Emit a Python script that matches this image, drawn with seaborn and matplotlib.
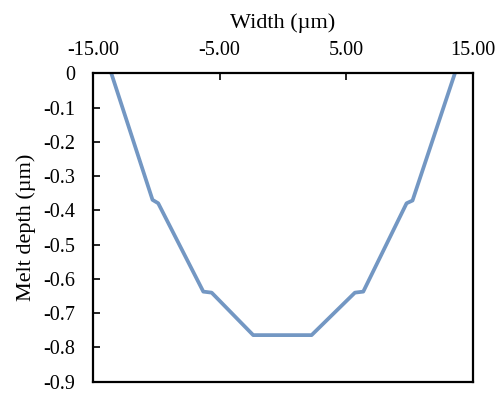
import matplotlib
matplotlib.use("Agg")
import matplotlib.pyplot as plt
import seaborn as sns
import pandas as pd
from matplotlib.ticker import FixedLocator, FuncFormatter

sns.set_theme(style="white")
plt.rcParams['font.family'] = ['Liberation Serif', 'DejaVu Serif']

width_um = [-13.55, -10.30, -9.85, -6.29, -5.63, -2.35, 2.26, 5.68, 6.34, 9.76, 10.23, 13.57]
melt_depth = [0.0, -0.369, -0.379, -0.637, -0.640, -0.764, -0.764, -0.640, -0.637, -0.379, -0.371, 0.0]
x_ticks = [-15, -5, 5, 15]
y_ticks = [0, -0.1, -0.2, -0.3, -0.4, -0.5, -0.6, -0.7, -0.8, -0.9]

df = pd.DataFrame({"x": width_um, "y": melt_depth})

fig = plt.figure(figsize=(5.01, 3.95), dpi=100)
ax = fig.add_axes([0.1856, 0.0337, 0.944 - 0.1856, 0.814 - 0.0337])
sns.lineplot(data=df, x="x", y="y", sort=False, color="#7397C3", linewidth=2.7, ax=ax)
ax.lines[0].set_solid_joinstyle("round")

ax.set_xlim(-15, 15)
ax.set_ylim(-0.9, 0)
ax.xaxis.set_major_locator(FixedLocator(x_ticks))
ax.xaxis.set_major_formatter(FuncFormatter(lambda v, p: f"{v:.2f}"))
ax.yaxis.set_major_locator(FixedLocator(y_ticks))
ax.yaxis.set_major_formatter(FuncFormatter(lambda v, p: "0" if abs(v) < 1e-9 else f"{v:.1f}"))
ax.xaxis.tick_top()
ax.xaxis.set_label_position("top")
ax.tick_params(axis="x", direction="in", length=5, width=1.2, colors="black",
               labelsize=14.5, pad=10, bottom=False, top=True)
ax.tick_params(axis="y", direction="in", length=5, width=1.2, colors="black",
               labelsize=14.5, pad=13, left=True)
for s in ax.spines.values():
    s.set_color("black")
    s.set_linewidth(1.6)
    s.set_visible(True)
ax.set_xlabel("Width (µm)", fontsize=16, labelpad=9, color="black")
ax.set_ylabel("Melt depth (µm)", fontsize=16, labelpad=5, color="black")
ax.grid(False)

fig.savefig("out.png", dpi=100)
